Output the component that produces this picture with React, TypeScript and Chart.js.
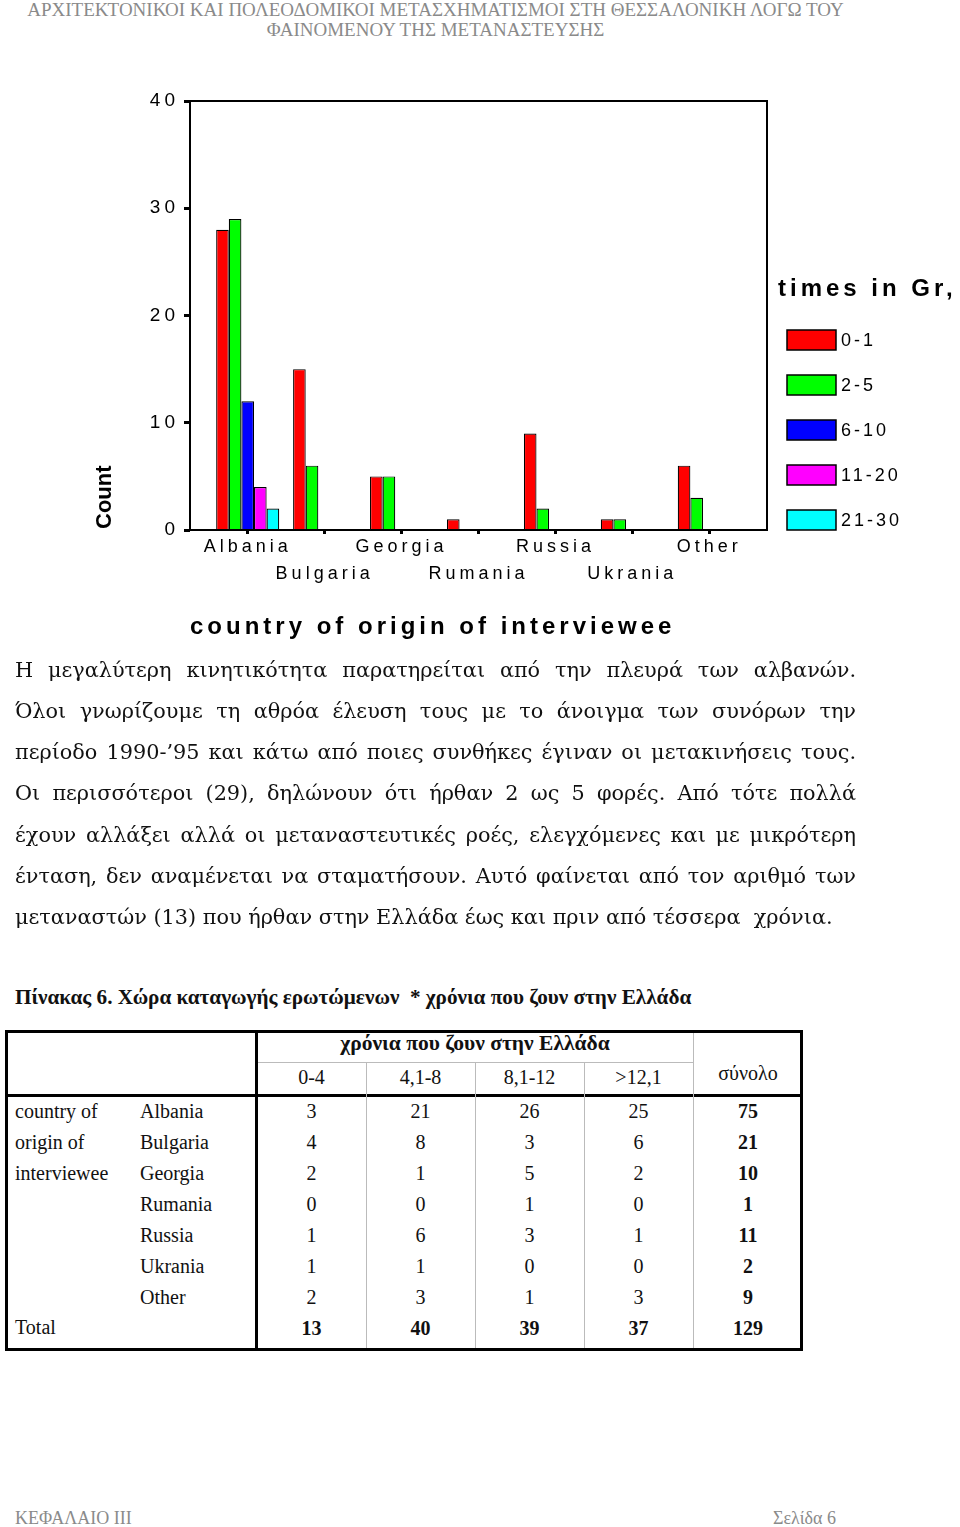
import React, { useEffect, useRef } from "react";
import { Chart, registerables } from "chart.js";

Chart.register(...registerables);

// ---------- chart data ----------
const countries = ["Albania", "Bulgaria", "Georgia", "Rumania", "Russia", "Ukrania", "Other"];
const seriesLabels = ["0-1", "2-5", "6-10", "11-20", "21-30"];
const series01 = [28, 15, 5, 1, 9, 1, 6];
const series25 = [29, 6, 5, 0, 2, 1, 3];
const series610 = [12, 0, 0, 0, 0, 0, 0];
const series1120 = [4, 0, 0, 0, 0, 0, 0];
const series2130 = [2, 0, 0, 0, 0, 0, 0];
const seriesColors = ["#ff0000", "#00ff00", "#0000ff", "#ff00ff", "#00ffff"];
const yTickStep = 10;
const yMax = 40;
const yAxisTitle = "Count";
const xAxisTitle = "country of origin of interviewee";
const legendTitle = "times in Gr,";

// ---------- page text ----------
const headerLines = [
  "ΑΡΧΙΤΕΚΤΟΝΙΚΟΙ ΚΑΙ ΠΟΛΕΟΔΟΜΙΚΟΙ ΜΕΤΑΣΧΗΜΑΤΙΣΜΟΙ ΣΤΗ ΘΕΣΣΑΛΟΝΙΚΗ ΛΟΓΩ ΤΟΥ",
  "ΦΑΙΝΟΜΕΝΟΥ ΤΗΣ ΜΕΤΑΝΑΣΤΕΥΣΗΣ",
];
const paragraphLines = [
  "Η μεγαλύτερη κινητικότητα παρατηρείται από την πλευρά των αλβανών.",
  "Όλοι γνωρίζουμε τη αθρόα έλευση τους με το άνοιγμα των συνόρων την",
  "περίοδο 1990-’95 και κάτω από ποιες συνθήκες έγιναν οι μετακινήσεις τους.",
  "Οι περισσότεροι (29), δηλώνουν ότι ήρθαν 2 ως 5 φορές. Από τότε πολλά",
  "έχουν αλλάξει αλλά οι μεταναστευτικές ροές, ελεγχόμενες και με μικρότερη",
  "ένταση, δεν αναμένεται να σταματήσουν. Αυτό φαίνεται από τον αριθμό των",
  "μεταναστών (13) που ήρθαν στην Ελλάδα έως και πριν από τέσσερα\u00a0 χρόνια.",
];
const tableCaption = "Πίνακας 6. Χώρα καταγωγής ερωτώμενων \u00a0* χρόνια που ζουν στην Ελλάδα";
const tableGroupHeader = "χρόνια που ζουν στην Ελλάδα";
const tableColHeaders = ["0-4", "4,1-8", "8,1-12", ">12,1"];
const tableTotalHeader = "σύνολο";
const tableRowGroup = ["country of", "origin of", "interviewee"];
const col04 = [3, 4, 2, 0, 1, 1, 2];
const col418 = [21, 8, 1, 0, 6, 1, 3];
const col812 = [26, 3, 5, 1, 3, 0, 1];
const col12 = [25, 6, 2, 0, 1, 0, 3];
const rowTotals = [75, 21, 10, 1, 11, 2, 9];
const colTotals = [13, 40, 39, 37];
const grandTotal = 129;
const footerLeft = "ΚΕΦΑΛΑΙΟ ΙΙΙ";
const footerRight = "Σελίδα 6";

const SANS = "'Liberation Sans', Arial, sans-serif";
const SERIF = "'Liberation Serif', 'Times New Roman', serif";

const decorPlugin = {
  id: "decor",
  beforeDraw(chart: any) {
    (chart.ctx as any).letterSpacing = "4px";
  },
  afterDatasetsDraw(chart: any) {
    const { ctx, chartArea: a } = chart;
    ctx.save();
    ctx.strokeStyle = "#000";
    ctx.lineWidth = 2;
    ctx.strokeRect(a.left, a.top, a.right - a.left, a.bottom - a.top);
    ctx.restore();
  },
  afterDraw(chart: any) {
    const { ctx, chartArea: a } = chart;
    // y axis title
    ctx.save();
    (ctx as any).letterSpacing = "0px";
    ctx.fillStyle = "#000";
    ctx.font = `bold 22px ${SANS}`;
    ctx.translate(a.left - 85, a.bottom - 1);
    ctx.rotate(-Math.PI / 2);
    ctx.textAlign = "left";
    ctx.textBaseline = "middle";
    ctx.fillText(yAxisTitle, 0, 0);
    ctx.restore();

    // x axis title
    ctx.save();
    (ctx as any).letterSpacing = "4px";
    ctx.fillStyle = "#000";
    ctx.font = `bold 24px ${SANS}`;
    ctx.textAlign = "left";
    ctx.textBaseline = "middle";
    ctx.fillText(xAxisTitle, a.left, a.bottom + 97);
    ctx.restore();

    // legend
    ctx.save();
    (ctx as any).letterSpacing = "4px";
    ctx.fillStyle = "#000";
    ctx.font = `bold 24px ${SANS}`;
    ctx.textAlign = "left";
    ctx.textBaseline = "middle";
    const lx = a.right + 11;
    ctx.fillText(legendTitle, lx, a.top + 188);
    chart.data.datasets.forEach((ds: any, i: number) => {
      const cy = a.top + 239 + i * 45;
      ctx.fillStyle = ds.backgroundColor;
      ctx.fillRect(lx + 9, cy - 10, 49, 20);
      ctx.strokeStyle = "#000";
      ctx.lineWidth = 1.5;
      ctx.strokeRect(lx + 9, cy - 10, 49, 20);
      ctx.fillStyle = "#000";
      ctx.font = `18px ${SANS}`;
      (ctx as any).letterSpacing = "3px";
      ctx.fillText(ds.label, lx + 63, cy + 1);
    });
    ctx.restore();
  },
};

function ChartBlock() {
  const ref = useRef<HTMLCanvasElement>(null);
  useEffect(() => {
    const values = [series01, series25, series610, series1120, series2130];
    const chart = new Chart(ref.current as HTMLCanvasElement, {
      type: "bar",
      data: {
        labels: countries,
        datasets: seriesLabels.map((l, i) => ({
          label: l,
          data: values[i],
          backgroundColor: seriesColors[i],
          borderColor: "#000",
          borderWidth: 1.2,
          categoryPercentage: 0.82,
          barPercentage: 1,
        })),
      },
      options: {
        responsive: false,
        animation: false,
        devicePixelRatio: 1,
        layout: { padding: { left: 130, right: 193, top: 41, bottom: 60 } },
        plugins: {
          legend: { display: false },
          tooltip: { enabled: false },
          title: { display: false },
        },
        scales: {
          x: {
            type: "category",
            offset: true,
            afterBuildTicks: (s: any) => {
              s._startValue = -0.75;
              s._valueRange = countries.length + 0.5;
            },
            afterFit: (s: any) => {
              s.height = 70;
            },
            grid: {
              display: true,
              drawOnChartArea: false,
              drawTicks: true,
              tickLength: 4,
              tickWidth: 3,
              tickColor: "#000",
              offset: false,
            },
            border: { display: false },
            ticks: {
              autoSkip: false,
              maxRotation: 0,
              minRotation: 0,
              padding: 0,
              color: "#000",
              font: { family: SANS, size: 18, lineHeight: 1.5 },
              callback: (_v: any, i: number) => (i % 2 ? ["", countries[i]] : countries[i]),
            },
          },
          y: {
            min: 0,
            max: yMax,
            afterFit: (s: any) => {
              s.width = 60;
            },
            grid: {
              drawOnChartArea: false,
              drawTicks: true,
              tickLength: 6,
              tickWidth: 3,
              tickColor: "#000",
            },
            border: { display: false },
            ticks: {
              stepSize: yTickStep,
              padding: 5,
              color: "#000",
              font: { family: SANS, size: 19 },
            },
          },
        },
      },
      plugins: [decorPlugin],
    } as any);
    return () => chart.destroy();
  }, []);
  return (
    <canvas
      ref={ref}
      width={960}
      height={600}
      style={{ position: "absolute", left: 0, top: 60, width: 960, height: 600, display: "block" }}
    />
  );
}

const colX = [5, 257, 366, 475, 584, 693, 803];
const rowTop0 = 1096;
const rowH = 31;

function Line({ l, t, w, h, c }: { l: number; t: number; w: number; h: number; c: string }) {
  return <div style={{ position: "absolute", left: l, top: t, width: w, height: h, background: c }} />;
}

function Cell({ x, w, cy, text, bold, align, size }: { x: number; w: number; cy: number; text: any; bold?: boolean; align?: string; size?: number }) {
  return (
    <div
      style={{
        position: "absolute",
        left: x,
        width: w,
        top: cy - 15,
        height: 30,
        lineHeight: "30px",
        textAlign: (align || "center") as any,
        fontFamily: SERIF,
        fontSize: size || 20,
        fontWeight: bold ? "bold" : "normal",
        color: "#111",
        whiteSpace: "nowrap",
      }}
    >
      {text}
    </div>
  );
}

function Table() {
  const dataCols = [col04, col418, col812, col12];
  const rowCenters = countries.map((_, i) => rowTop0 + 15 + i * rowH);
  const totalCy = rowTop0 + 15 + countries.length * rowH;
  const top = 1030;
  const bottom = 1351;
  return (
    <>
      <div
        style={{
          position: "absolute",
          left: 5,
          top,
          width: 798,
          height: bottom - top,
          border: "3px solid #000",
          boxSizing: "border-box",
        }}
      />
      <Line l={255} t={top} w={3} h={bottom - top} c="#000" />
      <Line l={5} t={1094} w={798} h={3} c="#000" />
      <Line l={258} t={1062} w={435} h={1} c="#bbb" />
      <Line l={366} t={1062} w={1} h={bottom - 1062 - 3} c="#bbb" />
      <Line l={475} t={1062} w={1} h={bottom - 1062 - 3} c="#bbb" />
      <Line l={584} t={1062} w={1} h={bottom - 1062 - 3} c="#bbb" />
      <Line l={693} t={top + 3} w={1} h={bottom - top - 6} c="#bbb" />

      <Cell x={colX[1]} w={colX[5] - colX[1]} cy={1043} text={tableGroupHeader} bold size={21.5} />
      {tableColHeaders.map((h, i) => (
        <Cell key={h} x={colX[i + 1]} w={colX[i + 2] - colX[i + 1]} cy={1077} text={h} />
      ))}
      <Cell x={colX[5]} w={colX[6] - colX[5]} cy={1073} text={tableTotalHeader} />

      {tableRowGroup.map((t, i) => (
        <Cell key={t} x={15} w={120} cy={rowCenters[i]} text={t} align="left" />
      ))}
      {countries.map((c, i) => (
        <Cell key={c} x={140} w={110} cy={rowCenters[i]} text={c} align="left" />
      ))}
      <Cell x={15} w={120} cy={totalCy - 1} text="Total" align="left" />

      {countries.map((c, r) => (
        <React.Fragment key={"r" + c}>
          {dataCols.map((col, k) => (
            <Cell key={k} x={colX[k + 1]} w={colX[k + 2] - colX[k + 1]} cy={rowCenters[r]} text={col[r]} />
          ))}
          <Cell x={colX[5]} w={colX[6] - colX[5]} cy={rowCenters[r]} text={rowTotals[r]} bold />
        </React.Fragment>
      ))}
      {colTotals.map((v, k) => (
        <Cell key={"t" + k} x={colX[k + 1]} w={colX[k + 2] - colX[k + 1]} cy={totalCy} text={v} bold />
      ))}
      <Cell x={colX[5]} w={colX[6] - colX[5]} cy={totalCy} text={grandTotal} bold />
    </>
  );
}

export default function App() {
  return (
    <div style={{ position: "absolute", left: 0, top: 0, width: 960, height: 1527, background: "#fff", overflow: "hidden" }}>
      <div
        style={{
          position: "absolute",
          left: 0,
          top: 0,
          width: 871,
          textAlign: "center",
          fontFamily: SERIF,
          fontSize: 19,
          lineHeight: "20px",
          color: "#8a8a8a",
          whiteSpace: "nowrap",
        }}
      >
        {headerLines.map((l) => (
          <div key={l}>{l}</div>
        ))}
      </div>

      <ChartBlock />

      <div style={{ position: "absolute", left: 15, top: 649.5, width: 841 }}>
        {paragraphLines.map((l, i) => (
          <div
            key={i}
            style={{
              height: 41.3,
              lineHeight: "41.3px",
              fontFamily: "'DejaVu Serif', serif",
              fontSize: 20.8,
              color: "#111",
              whiteSpace: "nowrap",
              textAlign: i === paragraphLines.length - 1 ? "left" : "justify",
              textAlignLast: (i === paragraphLines.length - 1 ? "left" : "justify") as any,
            }}
          >
            {l}
          </div>
        ))}
      </div>

      <div
        style={{
          position: "absolute",
          left: 15,
          top: 985,
          height: 24,
          lineHeight: "24px",
          fontFamily: SERIF,
          fontSize: 21.2,
          fontWeight: "bold",
          color: "#111",
          whiteSpace: "pre",
        }}
      >
        {tableCaption}
      </div>

      <Table />

      <div
        style={{
          position: "absolute",
          left: 15,
          top: 1507,
          lineHeight: "22px",
          fontFamily: SERIF,
          fontSize: 18,
          color: "#8a8a8a",
        }}
      >
        {footerLeft}
      </div>
      <div
        style={{
          position: "absolute",
          right: 960 - 836,
          top: 1507,
          lineHeight: "22px",
          fontFamily: SERIF,
          fontSize: 18,
          color: "#8a8a8a",
        }}
      >
        {footerRight}
      </div>
    </div>
  );
}
